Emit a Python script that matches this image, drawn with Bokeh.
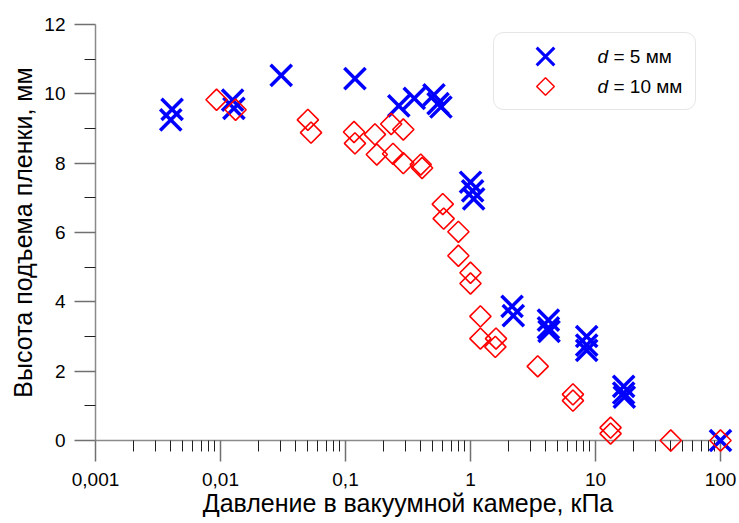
import numpy as np
from bokeh.plotting import figure
from bokeh.models import (Range1d, FixedTicker, CustomJSTickFormatter, BoxAnnotation, Label)
from bokeh.embed import file_html
from bokeh.resources import INLINE

# ---------------- data ----------------
# d = 5 mm  (blue crosses)
p5_kpa = [0.0041, 0.0040, 0.0125, 0.0128, 0.0306, 0.119, 0.267, 0.355, 0.51, 0.55, 0.58,
          1.0, 1.04, 1.06, 2.15, 2.2, 4.2, 4.2, 4.25, 8.5, 8.5, 8.5, 16.8, 16.8, 17.0, 100.0]
h5_mm = [9.55, 9.25, 9.82, 9.58, 10.53, 10.44, 9.65, 9.87, 9.97, 9.72, 9.62,
         7.45, 7.2, 6.97, 3.87, 3.6, 3.47, 3.25, 3.15, 3.0, 2.75, 2.6, 1.56, 1.37, 1.25, 0.0]

# d = 10 mm (red diamonds)
p10_kpa = [0.0093, 0.0132, 0.050, 0.053, 0.117, 0.119, 0.172, 0.178, 0.232, 0.29, 0.24, 0.29,
           0.40, 0.41, 0.60, 0.61, 0.80, 0.80, 1.0, 1.0, 1.2, 1.2, 1.6, 1.58, 3.45, 6.6, 6.6,
           13.2, 13.2, 40.0, 100.0]
h10_mm = [9.83, 9.54, 9.25, 8.88, 8.9, 8.57, 8.83, 8.25, 9.13, 8.97, 8.27, 8.0,
          7.96, 7.86, 6.82, 6.4, 6.02, 5.33, 4.84, 4.53, 3.58, 2.94, 2.94, 2.7, 2.14, 1.33, 1.15,
          0.37, 0.2, 0.0, 0.0]

x_tick_values = [0.001, 0.01, 0.1, 1, 10, 100]
x_tick_labels = ["0,001", "0,01", "0,1", "1", "10", "100"]
y_tick_values = [0, 2, 4, 6, 8, 10, 12]
y_minor_values = [1, 3, 5, 7, 9, 11]

series_labels = ["5 мм", "10 мм"]

x_title = "Давление в вакуумной камере, кПа"
y_title = "Высота подъема пленки, мм"

# ---------------- layout ----------------
W, H = 739, 523
FL, FR, FT, FB = 95, 720, 24, 440   # frame edges in pixels
FONT = "Liberation Sans"

p = figure(width=W, height=H, x_axis_type="log",
           x_range=Range1d(0.001, 100), y_range=Range1d(0, 12),
           min_border_left=FL, min_border_right=W - FR, min_border_top=FT, min_border_bottom=H - FB,
           output_backend="svg", toolbar_location=None)
p.outline_line_color = None
p.grid.visible = False
p.background_fill_color = "white"
p.border_fill_color = "white"

minor_x = [m * 10.0 ** e for e in range(-3, 2) for m in range(2, 10)]

xa = p.xaxis[0]
xa.ticker = FixedTicker(ticks=x_tick_values, minor_ticks=minor_x)
xa.formatter = CustomJSTickFormatter(args=dict(vals=x_tick_values, labs=x_tick_labels), code="""
for (let i = 0; i < vals.length; i++) {
  if (Math.abs(Math.log10(tick) - Math.log10(vals[i])) < 1e-6) return labs[i];
}
return '';
""")
ya = p.yaxis[0]
ya.ticker = FixedTicker(ticks=y_tick_values, minor_ticks=y_minor_values)

for ax in (xa, ya):
    ax.axis_line_color = "#8a8a8a"
    ax.axis_line_width = 1.5
    ax.major_tick_line_color = "#707070"
    ax.major_tick_line_width = 1.5
    ax.minor_tick_line_color = "#202020"
    ax.minor_tick_line_width = 1
    ax.major_tick_out = 21
    ax.major_tick_in = 0
    ax.minor_tick_out = 11
    ax.minor_tick_in = 0
    ax.major_label_text_font = FONT
    ax.major_label_text_font_size = "19px"
    ax.major_label_text_color = "black"
    ax.axis_label_text_font = FONT
    ax.axis_label_text_font_size = "25px"
    ax.axis_label_text_font_style = "normal"
    ax.axis_label_text_color = "black"

xa.axis_label = x_title
xa.major_label_standoff = 11
xa.axis_label_standoff = 0
ya.axis_label = y_title
ya.major_label_standoff = 9
ya.axis_label_standoff = 4

# ---------------- data marks ----------------
r5 = p.scatter(p5_kpa, h5_mm, marker="x", size=30, line_color="#0000ff", line_width=3.5)
r10 = p.scatter(p10_kpa, h10_mm, marker="square", angle=np.pi / 4, size=15,
                fill_color=None, line_color="#ff0000", line_width=1.6)
r5.level = "overlay"
r10.level = "overlay"

# ---------------- legend (drawn by hand) ----------------
def dx(px):
    return 10 ** (-3 + (px - FL) / (FR - FL) * 5)

def dy(py):
    return (FB - py) / (FB - FT) * 12

box = BoxAnnotation(left=dx(493), right=dx(695), top=dy(32), bottom=dy(109),
                    fill_color="white", fill_alpha=1.0, line_color="#a8a8a8", line_width=1,
                    border_radius=10, level="annotation")
p.add_layout(box)

leg_rows = [56, 86]
lg5 = p.scatter([dx(545)], [dy(leg_rows[0])], marker="x", size=25, line_color="#0000ff", line_width=3)
lg10 = p.scatter([dx(545)], [dy(leg_rows[1])], marker="square", angle=np.pi / 4, size=12.5,
                 fill_color=None, line_color="#ff0000", line_width=1.5)
lg5.level = "overlay"
lg10.level = "overlay"

for row, lab in zip(leg_rows, series_labels):
    p.add_layout(Label(x=dx(597), y=dy(row), text="d", text_font=FONT, text_font_size="19px",
                       text_font_style="italic", text_baseline="middle", text_align="left",
                       text_color="black", level="overlay"))
    p.add_layout(Label(x=dx(613), y=dy(row), text="= " + lab, text_font=FONT, text_font_size="19px",
                       text_baseline="middle", text_align="left", text_color="black", level="overlay"))

open("out.html", "w").write(file_html(p, INLINE))
